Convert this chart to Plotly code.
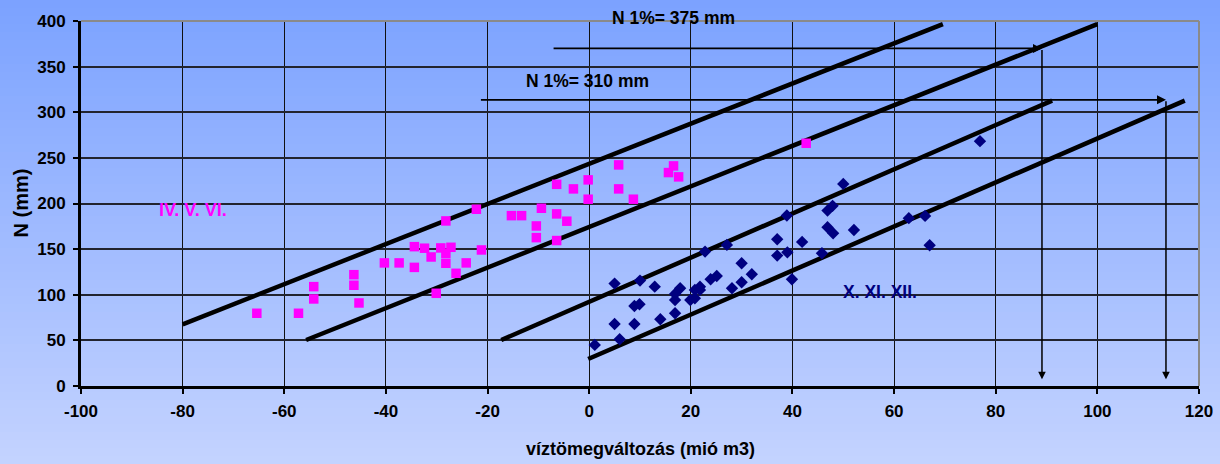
import plotly.graph_objects as go

# ---- data ----
pink_x = [-65.4, -57.2, -54.2, -54.2, -46.3, -46.3, -45.3, -40.3, -37.4, -34.4, -34.4, -32.4,
          -31.1, -30.1, -29.2, -28.2, -28.2, -28.2, -27.2, -26.2, -24.2, -22.2, -21.2,
          -15.3, -13.3, -10.4, -10.4, -9.4, -6.4, -6.4, -6.4, -4.4, -3.1, -0.2, -0.2,
          5.8, 5.8, 8.7, 15.6, 16.6, 17.6, 42.7]
pink_y = [79.7, 79.7, 108.9, 95.4, 122, 110.4, 91, 134.9, 134.9, 152.7, 130, 151,
          141.4, 101.6, 151.3, 180.9, 145.5, 134.5, 152, 123.5, 134.9, 193.7, 149.1,
          186.7, 186.7, 175.4, 162.6, 194.8, 221, 188.6, 159.4, 180.6, 216, 225.9, 204.7,
          242.3, 216, 204.7, 233.9, 241.2, 229.2, 266]

blue_x = [1.1, 5.0, 5.0, 6.0, 8.9, 9.9, 8.9, 10.0, 12.9, 14.0, 16.9, 16.9, 16.9, 17.9,
          19.9, 20.8, 20.8, 21.8, 21.8, 22.8, 23.9, 25.1, 27.1, 28.1, 30.0, 30.0, 32.0,
          37.0, 37.0, 38.9, 39.0, 39.9, 41.9, 45.8, 46.9, 47.9, 46.9, 48.0, 50.0, 52.1,
          62.9, 66.1, 67.0, 76.9]
blue_y = [45, 112.2, 68, 51.2, 87.7, 89.6, 68, 115.5, 108.9, 73.1, 100.9, 94.3, 79.7, 107.1,
          94.3, 96.2, 105.3, 105.3, 108.9, 147.3, 117, 120.6, 154.6, 107.1, 134.5, 113.7, 122.5,
          160.8, 142.9, 186.8, 146.5, 117, 157.9, 145.5, 192.2, 197.4, 174, 167.4, 221.5, 171,
          183.9, 186.4, 154.2, 268.3]

# envelope lines (start x, start y, end x, end y)
env_x0 = [-80.0, -55.7, -17.3, -0.2]
env_y0 = [67.6, 50.4, 50.4, 29.6]
env_x1 = [69.6, 100.0, 91.1, 117.2]
env_y1 = [396.6, 396.6, 312.8, 312.8]

# design-level arrows
lvl_labels = ["N 1%= 375 mm", "N 1%= 310 mm"]
lvl_y = [370, 313.6]
lvl_xstart = [-7.3, -21.6]
lvl_xend = [89.1, 113.5]
lvl_label_x = [16.6, -0.4]
lvl_label_y = [403, 334]

x_ticks = [-100, -80, -60, -40, -20, 0, 20, 40, 60, 80, 100, 120]
x_tick_text = ["-100", "-80", "-60", "-40", "-20", "0", "20", "40", "60", "80", "100", "120"]
y_ticks = [0, 50, 100, 150, 200, 250, 300, 350, 400]

W, H = 1220, 464
ML, MR, MT, MB = 81, 21, 21, 78
PW, PH = W - ML - MR, H - MT - MB
FONT = "Liberation Sans, Arial, sans-serif"

fig = go.Figure()

# background gradient bands (paper coords covering the whole canvas)
top = (123, 162, 255)
bot = (196, 211, 255)
nb = 58
shapes = []
for i in range(nb):
    t = (i + 0.5) / nb
    c = tuple(round(top[k] + (bot[k] - top[k]) * t) for k in range(3))
    py0 = i * H / nb
    py1 = (i + 1) * H / nb + 0.6
    shapes.append(dict(type="rect", xref="paper", yref="paper", layer="below",
                       x0=-ML / PW, x1=(W - ML) / PW,
                       y0=1 - (py1 - MT) / PH, y1=1 - (py0 - MT) / PH,
                       line=dict(width=0), fillcolor="rgb(%d,%d,%d)" % c))
# grey top/right border
shapes.append(dict(type="line", xref="paper", yref="paper", x0=0, x1=1, y0=1, y1=1,
                   line=dict(color="#8a8a8a", width=2), layer="above"))
shapes.append(dict(type="line", xref="paper", yref="paper", x0=1, x1=1, y0=0, y1=1,
                   line=dict(color="#8a8a8a", width=2), layer="above"))

for x0, y0, x1, y1 in zip(env_x0, env_y0, env_x1, env_y1):
    fig.add_trace(go.Scatter(x=[x0, x1], y=[y0, y1], mode="lines",
                             line=dict(color="black", width=4.5), showlegend=False,
                             hoverinfo="skip", cliponaxis=False))

fig.add_trace(go.Scatter(x=pink_x, y=pink_y, mode="markers", showlegend=False,
                         marker=dict(symbol="square", size=9.5, color="#FF00FF",
                                     line=dict(width=0))))
fig.add_trace(go.Scatter(x=blue_x, y=blue_y, mode="markers", showlegend=False,
                         marker=dict(symbol="diamond", size=9.5, color="#000080",
                                     line=dict(width=0))))

ann = []
for lab, yv, xs, xe, lx, ly in zip(lvl_labels, lvl_y, lvl_xstart, lvl_xend,
                                    lvl_label_x, lvl_label_y):
    ann.append(dict(x=xe, y=yv, ax=xs, ay=yv, xref="x", yref="y", axref="x", ayref="y",
                    showarrow=True, arrowhead=2, arrowsize=1, arrowwidth=1.8,
                    arrowcolor="black", text=""))
    ann.append(dict(x=xe, y=7.5, ax=xe, ay=yv, xref="x", yref="y", axref="x", ayref="y",
                    showarrow=True, arrowhead=2, arrowsize=1, arrowwidth=1.5,
                    arrowcolor="black", text=""))
    ann.append(dict(x=(lx + 100) / 220, y=ly / 400, xref="paper", yref="paper", text=lab,
                    showarrow=False, xanchor="center", yanchor="middle",
                    font=dict(family=FONT, size=17.5, color="black", weight="bold")))

ann.append(dict(x=-78, y=193, xref="x", yref="y", text="IV. V. VI.", showarrow=False,
                xanchor="center", yanchor="middle",
                font=dict(family=FONT, size=18, color="#FF00FF", weight="bold")))
ann.append(dict(x=57.2, y=103, xref="x", yref="y", text="X. XI. XII.", showarrow=False,
                xanchor="center", yanchor="middle",
                font=dict(family=FONT, size=17.5, color="#000080", weight="bold")))

# axis titles
ann.append(dict(x=0.5, y=-(449 - 386) / PH, xref="paper", yref="paper",
                text="víztömegváltozás (mió m3)", showarrow=False,
                xanchor="center", yanchor="middle",
                font=dict(family=FONT, size=18, color="black", weight="bold")))
ann.append(dict(x=-(81 - 20) / PW, y=0.5, xref="paper", yref="paper", text="N (mm)",
                showarrow=False, textangle=-90, xanchor="center", yanchor="middle",
                font=dict(family=FONT, size=20, color="black", weight="bold")))

tickfont = dict(family=FONT, size=17, color="black", weight="bold")

fig.update_layout(
    width=W, height=H,
    margin=dict(l=ML, r=MR, t=MT, b=MB, pad=0, autoexpand=False),
    paper_bgcolor="rgb(158,186,255)",
    plot_bgcolor="rgba(0,0,0,0)",
    shapes=shapes,
    annotations=ann,
    showlegend=False,
    xaxis=dict(range=[-100, 120], tickvals=x_ticks, ticktext=x_tick_text, showgrid=True,
               gridcolor="#111111", gridwidth=1.4, zeroline=False, showline=True,
               linecolor="black", linewidth=3, ticks="outside", ticklen=5, tickwidth=1.5,
               tickcolor="black", tickfont=tickfont, ticklabelstandoff=3, automargin=False),
    yaxis=dict(range=[0, 400], tickvals=y_ticks, showgrid=True, gridcolor="#22242e",
               gridwidth=2, zeroline=False, showline=True, linecolor="black",
               linewidth=3, ticks="outside", ticklen=5, tickwidth=1.5, tickcolor="black",
               tickfont=tickfont, ticklabelstandoff=4, automargin=False),
)

fig.write_html("out.html")
